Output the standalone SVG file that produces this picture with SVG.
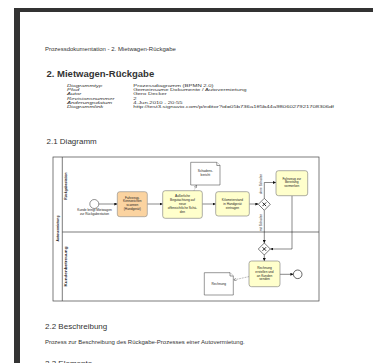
<svg xmlns="http://www.w3.org/2000/svg" width="373" height="363" viewBox="0 0 373 363">
<style>
text{font-family:"Liberation Sans",Arial,sans-serif;fill:#333}
.sm{font-size:4.8px}
.mv{font-size:4.3px}
.lab{font-size:4.3px;font-style:italic}
.h2{font-size:8px}
.t{font-size:3.2px;fill:#222;text-anchor:middle}
.lane{font-size:3.4px;fill:#222;text-anchor:middle;font-weight:bold}
.task{fill:#ffffcc;stroke:#777;stroke-width:0.6}
.task1{fill:#fbd3a0;stroke:#888;stroke-width:0.6}
.flow{fill:none;stroke:#111;stroke-width:0.5}
.assoc{fill:none;stroke:#333;stroke-width:0.45;stroke-dasharray:0.8 0.8}
.gw{fill:#fff;stroke:#222;stroke-width:0.6}
.doc{fill:#fff;stroke:#333;stroke-width:0.5}
.pool{fill:none;stroke:#444;stroke-width:0.7}
</style>
<defs>
<marker id="arr" markerUnits="userSpaceOnUse" markerWidth="3" markerHeight="3" refX="3" refY="1.5" orient="auto"><path d="M0,0 L3,1.5 L0,3 Z" fill="#111"/></marker>
<marker id="open" markerUnits="userSpaceOnUse" markerWidth="3" markerHeight="3" refX="3" refY="1.5" orient="auto"><path d="M0,0 L3,1.5 L0,3" fill="none" stroke="#333" stroke-width="0.4"/></marker>
</defs>
<rect width="373" height="363" fill="#fff"/>
<rect x="14" y="8" width="359" height="4" fill="#333"/>
<rect x="14" y="8" width="6" height="355" fill="#333"/>

<g id="header">
<text class="sm" transform="translate(45,51) scale(1.25,1)">Prozessdokumentation - 2. Mietwagen-Rückgabe</text>
<text x="46.5" y="76.5" font-size="9.5" font-weight="bold" fill="#222">2. Mietwagen-Rückgabe</text>
<g transform="translate(67,0) scale(1.38,1)">
<text class="lab" x="0" y="86.6">Diagrammtyp</text>
<text class="lab" x="0" y="91">Pfad</text>
<text class="lab" x="0" y="95.3">Autor</text>
<text class="lab" x="0" y="99.6">Revisionsnummer</text>
<text class="lab" x="0" y="104">Änderungsdatum</text>
<text class="lab" x="0" y="108.3">Diagrammlink</text>
<text class="mv" x="48" y="86.6">Prozessdiagramm (BPMN 2.0)</text>
<text class="mv" x="48" y="91">Gemeinsame Dokumente / Autovermietung</text>
<text class="mv" x="48" y="95.3">Gero Decker</text>
<text class="mv" x="48" y="99.6">2</text>
<text class="mv" x="48" y="104">4.Jun.2010 - 20:55</text>
<text class="mv" x="48" y="108.3" textLength="145.5" lengthAdjust="spacingAndGlyphs">http://test3.signavio.com/p/editor?id=05b736a1ff5b44a9806027921708306df</text>
</g>
<text class="h2" x="46.5" y="144">2.1 Diagramm</text>
</g>

<g id="pool">
<rect class="pool" x="53" y="157" width="266" height="144"/>
<line class="pool" x1="62.3" y1="157" x2="62.3" y2="301"/>
<line class="pool" x1="62.3" y1="232" x2="319" y2="232"/>
<text class="lane" transform="translate(59,228.5) rotate(-90)">Autovermietung</text>
<text class="lane" transform="translate(66.8,186) rotate(-90)">Rückgabestation</text>
<text class="lane" transform="translate(66.8,266.5) rotate(-90)" textLength="40" lengthAdjust="spacingAndGlyphs">Kundenbetreuung</text>
</g>

<g id="connectors">
<path class="flow" d="M98.8,204 H117.3" marker-end="url(#arr)"/>
<path class="flow" d="M147.3,204 H162.7" marker-end="url(#arr)"/>
<path class="flow" d="M202.3,204 H215.7" marker-end="url(#arr)"/>
<path class="flow" d="M249.3,204 H258.3" marker-end="url(#arr)"/>
<path class="flow" d="M264.3,198.3 V182.5 H276" marker-end="url(#arr)"/>
<path class="flow" d="M264.3,210.3 V243" marker-end="url(#arr)"/>
<path class="flow" d="M292,195.7 V249 H270.3" marker-end="url(#arr)"/>
<path class="flow" d="M264.3,255 V261" marker-end="url(#arr)"/>
<path class="flow" d="M280,274.3 H293.4" marker-end="url(#arr)"/>
<path class="assoc" d="M194,190.7 L196.5,185.2" marker-end="url(#open)"/>
<path class="assoc" d="M249,276.6 L233.5,280" marker-end="url(#open)"/>
<text class="t" transform="translate(261.8,184) rotate(-90)">ohne Schaden</text>
<text class="t" transform="translate(261.8,222.5) rotate(-90)">mit Schaden</text>
</g>

<g id="start">
<circle cx="94.3" cy="204" r="4.5" fill="#fff" stroke="#222" stroke-width="0.5"/>
<text class="t" x="94.5" y="211.2">Kunde bringt Mietwagen</text>
<text class="t" x="94.5" y="215">zur Rückgabestation</text>
</g>

<g id="task1">
<rect class="task1" x="117.3" y="191.7" width="30" height="25" rx="2.5"/>
<text class="t" x="132.3" y="198.5">Fahrzeug-</text>
<text class="t" x="132.3" y="202.2">Kennzeichen</text>
<text class="t" x="132.3" y="205.9">scannen</text>
<text class="t" x="132.3" y="209.6">(Handgerät)</text>
</g>

<g id="task2">
<rect class="task" x="162.7" y="190.7" width="39.6" height="27.6" rx="2.5"/>
<text class="t" x="182.5" y="197.3">Äußerliche</text>
<text class="t" x="182.5" y="201.2">Begutachtung auf</text>
<text class="t" x="182.5" y="205.1">neue</text>
<text class="t" x="182.5" y="209">offensichtliche Schä-</text>
<text class="t" x="182.5" y="212.9">den</text>
</g>

<g id="schadensbericht">
<path class="doc" d="M190.7,162.3 H216.8 L220,165.5 V185 H190.7 Z"/>
<path class="doc" d="M216.8,162.3 V165.5 H220"/>
<text class="t" x="205.4" y="172.4">Schadens-</text>
<text class="t" x="205.4" y="176.3">bericht</text>
</g>

<g id="task3">
<rect class="task" x="215.7" y="191.7" width="33.6" height="24.3" rx="2.5"/>
<text class="t" x="232.5" y="201.2">Kilometerstand</text>
<text class="t" x="232.5" y="205.1">in Handgerät</text>
<text class="t" x="232.5" y="209">eintragen</text>
</g>

<g id="gateway1">
<path class="gw" d="M264.3,198.3 L270.3,204.3 L264.3,210.3 L258.3,204.3 Z"/>
<path d="M262.5,202.5 L266.1,206.1 M266.1,202.5 L262.5,206.1" stroke="#111" stroke-width="0.9"/>
</g>

<g id="task4">
<rect class="task" x="276" y="170.7" width="31.7" height="25" rx="2.5"/>
<text class="t" x="291.8" y="179.5">Fahrzeug zur</text>
<text class="t" x="291.8" y="183.4">Bereitung</text>
<text class="t" x="291.8" y="187.3">vormerken</text>
</g>

<g id="gateway2">
<path class="gw" d="M264.3,243 L270.3,249 L264.3,255 L258.3,249 Z"/>
<path d="M262.5,247.2 L266.1,250.8 M266.1,247.2 L262.5,250.8" stroke="#111" stroke-width="0.9"/>
</g>

<g id="task5">
<rect class="task" x="249" y="261" width="31" height="25.7" rx="2.5"/>
<text class="t" x="264.5" y="269">Rechnung</text>
<text class="t" x="264.5" y="272.8">erstellen und</text>
<text class="t" x="264.5" y="276.6">an Kunden</text>
<text class="t" x="264.5" y="280.4">senden</text>
</g>

<g id="rechnung">
<path class="doc" d="M204.3,272.7 H230 L233.3,276 V295 H204.3 Z"/>
<path class="doc" d="M230,272.7 V276 H233.3"/>
<text class="t" x="218.8" y="285.3">Rechnung</text>
</g>

<g id="end">
<circle cx="297.7" cy="274.3" r="4.3" fill="#fff" stroke="#222" stroke-width="0.7"/>
</g>

<g id="footer">
<text class="h2" x="45" y="329">2.2 Beschreibung</text>
<text class="sm" transform="translate(45,344) scale(1.25,1)">Prozess zur Beschreibung des Rückgabe-Prozesses einer Autovermietung.</text>
<text class="h2" x="45" y="366">2.3 Elemente</text>
</g>
</svg>
